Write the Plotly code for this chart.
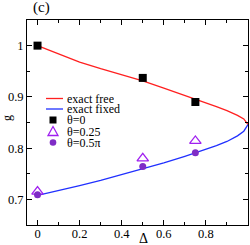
import plotly.graph_objects as go

# ---- data ----
delta_curve = [0.0, 0.1, 0.2, 0.3, 0.4, 0.5, 0.6, 0.7, 0.8, 0.85, 0.9, 0.95, 0.98, 1.0]
g_free = [1.0, 0.984, 0.968, 0.955, 0.943, 0.931, 0.917, 0.903, 0.889, 0.881, 0.873, 0.864, 0.857, 0.846]
g_fixed = [0.708, 0.717, 0.727, 0.737, 0.748, 0.760, 0.771, 0.784, 0.797, 0.805, 0.813, 0.824, 0.833, 0.846]

delta_pts = [0.0, 0.5, 0.75]
g_theta0 = [1.0, 0.937, 0.890]
g_theta025 = [0.715, 0.780, 0.814]
g_theta05pi = [0.709, 0.764, 0.791]

x_ticks = [0, 0.2, 0.4, 0.6, 0.8]
y_ticks = [0.7, 0.8, 0.9, 1.0]

RED = "#ff2020"
BLUE = "#2030ff"
TRI = "#a020f0"
CIRC = "#7f2cc6"
FONT = "Liberation Serif"

W, H = 250, 245
ML, MR, MT, MB = 27, 2, 20, 20
PW, PH = W - ML - MR, H - MT - MB


def px(x):
    return (x - ML) / PW


def py(y):
    return (H - MB - y) / PH


fig = go.Figure()
fig.add_trace(go.Scatter(x=delta_curve, y=g_free, mode="lines",
                         line=dict(color=RED, width=1.3), showlegend=False))
fig.add_trace(go.Scatter(x=delta_curve, y=g_fixed, mode="lines",
                         line=dict(color=BLUE, width=1.3), showlegend=False))
fig.add_trace(go.Scatter(x=delta_pts, y=g_theta0, mode="markers",
                         marker=dict(symbol="square", size=8, color="black"), showlegend=False))
fig.add_trace(go.Scatter(x=delta_pts, y=g_theta025, mode="markers",
                         marker=dict(symbol="triangle-up-open", size=10, color=TRI,
                                     line=dict(width=1.3, color=TRI)), showlegend=False))
fig.add_trace(go.Scatter(x=delta_pts, y=g_theta05pi, mode="markers",
                         marker=dict(symbol="circle", size=7, color=CIRC), showlegend=False))

# ---- manual legend (compact, like the reference) ----
rows = [98.5, 109, 120, 131.5, 142.5]
labels = ["exact free", "exact fixed", "θ=0", "θ=0.25", "θ=0.5π"]
shapes = []
annotations = []
for yy, lab in zip(rows, labels):
    annotations.append(dict(x=px(65), y=py(yy), xref="paper", yref="paper", text=lab,
                            showarrow=False, xanchor="left", yanchor="middle", height=10,
                            font=dict(family=FONT, size=12, color="black")))
shapes.append(dict(type="line", xref="paper", yref="paper", x0=px(46), x1=px(63),
                   y0=py(rows[0]), y1=py(rows[0]), line=dict(color=RED, width=1.3)))
shapes.append(dict(type="line", xref="paper", yref="paper", x0=px(46), x1=px(63),
                   y0=py(rows[1]), y1=py(rows[1]), line=dict(color=BLUE, width=1.3)))
shapes.append(dict(type="rect", xref="paper", yref="paper", xsizemode="pixel", ysizemode="pixel",
                   xanchor=px(53), yanchor=py(rows[2]), x0=-3.5, x1=3.5, y0=-3.5, y1=3.5,
                   fillcolor="black", line=dict(width=0)))
shapes.append(dict(type="path", xref="paper", yref="paper", xsizemode="pixel", ysizemode="pixel",
                   xanchor=px(53), yanchor=py(rows[3]), path="M -5,-4 L 5,-4 L 0,5 Z",
                   fillcolor="rgba(0,0,0,0)", line=dict(color=TRI, width=1.3)))
shapes.append(dict(type="circle", xref="paper", yref="paper", xsizemode="pixel", ysizemode="pixel",
                   xanchor=px(53), yanchor=py(rows[4]), x0=-3.3, x1=3.3, y0=-3.3, y1=3.3,
                   fillcolor=CIRC, line=dict(width=0)))

annotations.append(dict(x=px(41), y=1, xref="paper", yref="paper", text="(c)",
                        showarrow=False, xanchor="center", yanchor="bottom", yshift=2,
                        font=dict(family=FONT, size=15, color="black")))
annotations.append(dict(x=px(143), y=py(238), xref="paper", yref="paper", text="Δ",
                        showarrow=False, xanchor="center", yanchor="middle",
                        font=dict(family=FONT, size=14, color="black")))
annotations.append(dict(x=px(7), y=py(118), xref="paper", yref="paper", text="g",
                        showarrow=False, xanchor="center", yanchor="middle", textangle=-90,
                        font=dict(family=FONT, size=12, color="black")))

axis_common = dict(showgrid=False, zeroline=False, showline=True, linecolor="black",
                   linewidth=1, mirror="allticks", ticks="inside", ticklen=5,
                   tickcolor="black", tickwidth=1,
                   tickfont=dict(family=FONT, size=12.5, color="black"))

fig.update_layout(
    width=W, height=H,
    margin=dict(l=ML, r=MR, t=MT, b=MB),
    paper_bgcolor="white", plot_bgcolor="white",
    xaxis=dict(range=[-0.05, 1.0], tickvals=x_ticks, ticktext=[str(v) for v in x_ticks],
               ticklabelstandoff=-3,
               minor=dict(dtick=0.1, tick0=0, ticks="inside", ticklen=3, tickcolor="black"),
               **axis_common),
    yaxis=dict(range=[0.65, 1.05], tickvals=y_ticks, ticktext=["0.7", "0.8", "0.9", "1"],
               minor=dict(dtick=0.05, tick0=0.65, ticks="inside", ticklen=3, tickcolor="black"),
               **axis_common),
    shapes=shapes, annotations=annotations,
)

fig.write_html("out.html", config={"displayModeBar": False},
               post_script="document.body.style.margin='0';document.body.style.overflow='hidden';")
